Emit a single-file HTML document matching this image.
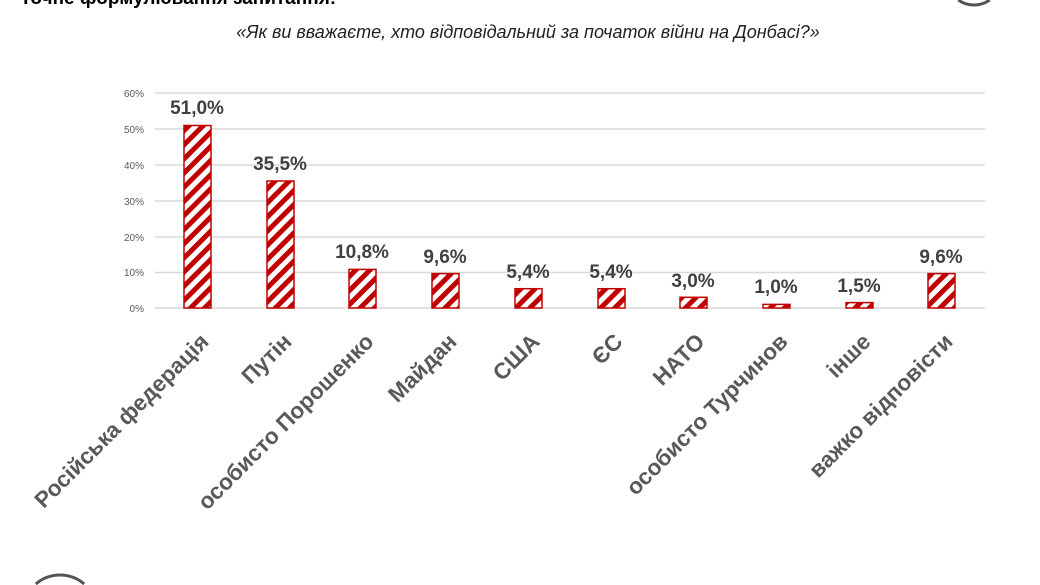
<!DOCTYPE html>
<html><head><meta charset="utf-8"><style>
html,body{margin:0;padding:0;background:#fff;width:1040px;height:585px;overflow:hidden;}
svg{display:block;overflow:hidden}
</style></head><body>
<svg width="1040" height="585" viewBox="0 0 1040 585" xmlns="http://www.w3.org/2000/svg" font-family="Liberation Sans, sans-serif">
<defs>
<pattern id="st" width="10" height="10" patternUnits="userSpaceOnUse" patternTransform="rotate(45)">
<rect width="10" height="10" fill="#fff"/>
<rect width="5" height="10" fill="#c00000"/>
</pattern>
</defs>
<text x="20" y="4" font-size="19" font-weight="bold" fill="#000">Точне формулювання запитання:</text>
<path d="M958.3,0 A27,27 0 0 0 989.7,0" fill="none" stroke="#555" stroke-width="3"/>
<path d="M35.8,584 A37,37 0 0 1 84.2,584" fill="none" stroke="#555" stroke-width="3"/>
<text x="528" y="38" font-size="18" font-style="italic" fill="#222" text-anchor="middle">«Як ви вважаєте, хто відповідальний за початок війни на Донбасі?»</text>
<g stroke="#d9d9d9" stroke-width="1.5">
<line x1="155" x2="985" y1="93" y2="93"/><line x1="155" x2="985" y1="129" y2="129"/>
<line x1="155" x2="985" y1="165" y2="165"/><line x1="155" x2="985" y1="201" y2="201"/>
<line x1="155" x2="985" y1="237" y2="237"/><line x1="155" x2="985" y1="272.5" y2="272.5"/>
<line x1="155" x2="985" y1="308" y2="308"/>
</g>
<g font-size="10" fill="#595959" text-anchor="end">
<text x="144" y="97">60%</text><text x="144" y="133">50%</text><text x="144" y="169">40%</text>
<text x="144" y="205">30%</text><text x="144" y="241">20%</text><text x="144" y="276">10%</text><text x="144" y="312">0%</text>
</g>
<g stroke="#c00000" stroke-width="1.5" fill="url(#st)">
<rect x="184" y="125.5" width="27" height="182.5"/>
<rect x="267" y="181" width="27" height="127"/>
<rect x="349" y="269.4" width="27" height="38.6"/>
<rect x="432" y="273.6" width="27" height="34.4"/>
<rect x="515" y="288.7" width="27" height="19.3"/>
<rect x="598" y="288.7" width="27" height="19.3"/>
<rect x="680" y="297.3" width="27" height="10.7"/>
<rect x="763" y="304.4" width="27" height="3.6"/>
<rect x="846" y="302.6" width="27" height="5.4"/>
<rect x="928" y="273.6" width="27" height="34.4"/>
</g>
<g font-size="19" font-weight="bold" fill="#404040" text-anchor="middle">
<text x="197" y="114">51,0%</text><text x="280" y="170">35,5%</text><text x="362" y="258">10,8%</text>
<text x="445" y="263">9,6%</text><text x="528" y="278">5,4%</text><text x="611" y="278">5,4%</text>
<text x="693" y="287">3,0%</text><text x="776" y="293">1,0%</text><text x="859" y="292">1,5%</text>
<text x="941" y="263">9,6%</text>
</g>
<g font-size="22.5" font-weight="bold" fill="#595959" text-anchor="end">
<text transform="translate(210,343) rotate(-45)">Російська федерація</text>
<text transform="translate(293,343) rotate(-45)">Путін</text>
<text transform="translate(375,343) rotate(-45)">особисто Порошенко</text>
<text transform="translate(458,343) rotate(-45)">Майдан</text>
<text transform="translate(541,343) rotate(-45)">США</text>
<text transform="translate(624,343) rotate(-45)">ЄС</text>
<text transform="translate(706,343) rotate(-45)">НАТО</text>
<text transform="translate(789,343) rotate(-45)">особисто Турчинов</text>
<text transform="translate(872,343) rotate(-45)">інше</text>
<text transform="translate(954,343) rotate(-45)">важко відповісти</text>
</g>
</svg>
</body></html>
